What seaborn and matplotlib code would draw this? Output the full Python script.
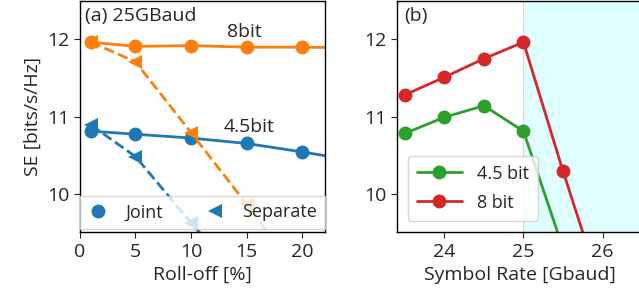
import pandas as pd
import seaborn as sns
import matplotlib.pyplot as plt
from matplotlib.lines import Line2D

# --- DATI ---
# (a) SE vs roll-off a 25 GBaud
rolloff = [1, 5, 10, 15, 20, 25]
joint_8bit = [11.965, 11.91, 11.92, 11.90, 11.90, 11.89]
joint_45bit = [10.81, 10.77, 10.72, 10.65, 10.54, 10.42]
rolloff_sep_8bit = [1, 5, 10, 15, 20]
sep_8bit = [11.965, 11.71, 10.79, 9.86, 8.90]
rolloff_sep_45bit = [1, 5, 10, 15]
sep_45bit = [10.89, 10.48, 9.62, 8.80]

# (b) SE vs symbol rate
symrate_45 = [23.5, 24.0, 24.5, 25.0, 25.5]
se_45 = [10.78, 10.99, 11.14, 10.81, 9.29]
symrate_8 = [23.5, 24.0, 24.5, 25.0, 25.5, 26.0]
se_8 = [11.28, 11.51, 11.75, 11.965, 10.29, 8.70]

# --- STILE ---
sns.set_style('ticks')
plt.rcParams['font.family'] = ['Open Sans', 'DejaVu Sans']
plt.rcParams['font.size'] = 14
plt.rcParams['xtick.direction'] = 'out'
plt.rcParams['ytick.direction'] = 'out'
plt.rcParams['xtick.major.size'] = 4
plt.rcParams['ytick.major.size'] = 4

blu, arancio, verde, rosso = '#1f77b4', '#ff7f0e', '#2ca02c', '#d62728'
ms = 10
lw = 2

fig = plt.figure(figsize=(6.39, 3.07), dpi=100)
ax1 = fig.add_axes([0.125, 0.244, 0.383, 0.753])
ax2 = fig.add_axes([0.621, 0.244, 0.384, 0.753])

# --- PANNELLO (a) ---
sns.lineplot(x=rolloff, y=joint_8bit, ax=ax1, color=arancio, marker='o',
             markersize=ms, markeredgewidth=0, lw=lw)
sns.lineplot(x=rolloff, y=joint_45bit, ax=ax1, color=blu, marker='o',
             markersize=ms, markeredgewidth=0, lw=lw)
sns.lineplot(x=rolloff_sep_8bit, y=sep_8bit, ax=ax1, color=arancio, marker='<',
             markersize=ms, markeredgewidth=0, lw=lw, linestyle='--')
sns.lineplot(x=rolloff_sep_45bit, y=sep_45bit, ax=ax1, color=blu, marker='<',
             markersize=ms, markeredgewidth=0, lw=lw, linestyle='--')

ax1.set_xlim(0, 22)
ax1.set_ylim(9.5, 12.5)
ax1.set_xticks([0, 5, 10, 15, 20])
ax1.set_yticks([10, 11, 12])
ax1.set_xlabel('Roll-off [%]')
ax1.set_ylabel('SE [bits/s/Hz]')
ax1.text(0.5, 12.3, '(a) 25GBaud', ha='left', va='center')
ax1.text(13.2, 12.1, '8bit', ha='left', va='center')
ax1.text(12.9, 10.87, '4.5bit', ha='left', va='center')

maniglie = [
    Line2D([], [], color=blu, marker='o', ls='none', markersize=ms, markeredgewidth=0),
    Line2D([], [], color=blu, marker='<', ls='none', markersize=ms, markeredgewidth=0),
]
ax1.legend(maniglie, ['Joint', 'Separate'], ncol=2, loc='lower left',
           bbox_to_anchor=(0, 0.015, 1, 0.15), mode='expand',
           borderaxespad=0, handlelength=1.2, handletextpad=0.9,
           fancybox=False, fontsize=13)

# --- PANNELLO (b) ---
ax2.axvspan(25, 27, color='#e0ffff', lw=0, zorder=0)
ax2.axvline(25, color='#ff6666', lw=0.6, ls=':', zorder=1)
sns.lineplot(x=symrate_45, y=se_45, ax=ax2, color=verde, marker='o',
             markersize=ms, markeredgewidth=0, lw=lw, label='4.5 bit')
sns.lineplot(x=symrate_8, y=se_8, ax=ax2, color=rosso, marker='o',
             markersize=ms, markeredgewidth=0, lw=lw, label='8 bit')

ax2.set_xlim(23.4, 26.5)
ax2.set_ylim(9.5, 12.5)
ax2.set_xticks([24, 25, 26])
ax2.set_yticks([10, 11, 12])
ax2.set_xlabel('Symbol Rate [Gbaud]')
ax2.set_ylabel('')
ax2.text(23.5, 12.3, '(b)', ha='left', va='center')
ax2.legend(loc='lower left', bbox_to_anchor=(0.045, 0.05), borderaxespad=0,
           handlelength=2.5, handletextpad=0.85, labelspacing=0.6,
           borderpad=0.5, fontsize=13)

for ax in (ax1, ax2):
    for s in ax.spines.values():
        s.set_color('black')
        s.set_linewidth(1.0)

plt.savefig('out.png', dpi=100)
